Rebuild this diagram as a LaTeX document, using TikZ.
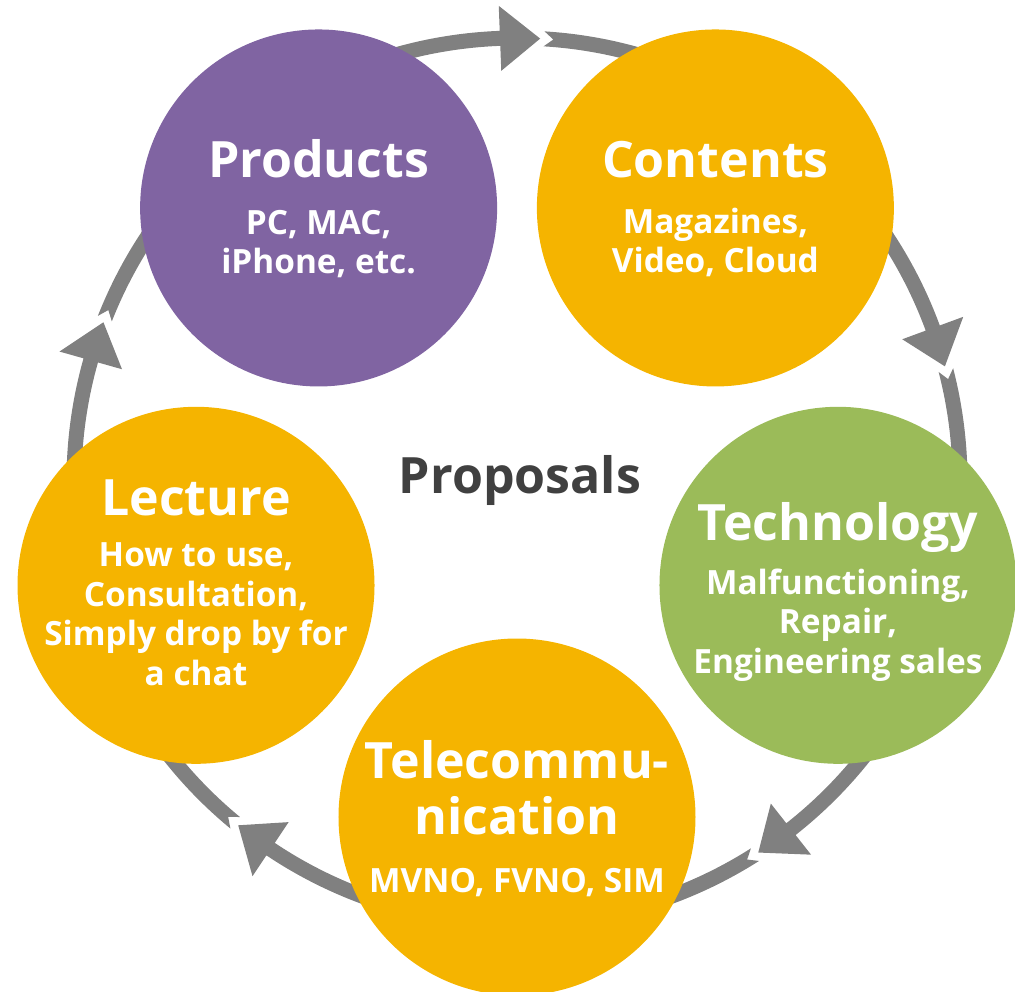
\documentclass[tikz,border=0pt]{standalone}
\usepackage{fontspec}
\setmainfont{Open Sans}
\usepackage{tikz}
\usetikzlibrary{positioning, calc}

\definecolor{ringgray}{HTML}{808080}
\definecolor{prodpurple}{HTML}{8064A2}
\definecolor{warmorange}{HTML}{F5B400}
\definecolor{techgreen}{HTML}{9BBB59}
\definecolor{darktext}{HTML}{404040}

\begin{document}
\begin{tikzpicture}[
      bubble/.style={circle, minimum size=7.14cm, inner sep=0pt, draw=none},
      head_text/.style={font=\bfseries\fontsize{28.5}{31.5}\selectfont, text=white, align=center, inner sep=0pt, anchor=base},
      body_text/.style={font=\bfseries\fontsize{19}{22.5}\selectfont, text=white, align=center, inner sep=0pt, anchor=base}
  ]

  \useasboundingbox (-10.34,-10.20) rectangle (9.96,9.62);

  % Ring of arrows (tips at 87, 15, -57, -129, -201 degrees)
  \foreach \t in {87,15,-57,-129,-201} {
    \fill[ringgray] ({\t+71.5}:9.01) arc[start angle=\t+71.5, end angle=\t+5.2, radius=9.01]
      -- ({\t+5.2}:9.51) -- (\t:8.86) -- ({\t+5.2}:8.21) -- ({\t+5.2}:8.71)
      arc[start angle=\t+5.2, end angle=\t+71.5, radius=8.71]
      -- ({\t+70.3}:8.86) -- cycle;
  }

  % The five circles
  \node[bubble, fill=prodpurple] (prod) at (126:6.75) {};
  \node[bubble, fill=warmorange] (cont) at (54:6.75) {};
  \node[bubble, fill=techgreen] (tech) at (-18:6.75) {};
  \node[bubble, fill=warmorange] (tele) at (-90:6.72) {};
  \node[bubble, fill=warmorange] (lect) at (198:6.75) {};

  % Texts (base = baseline of the last line)
  \node[head_text] (prodhead) at ([yshift=0.60cm]prod.center) {Products};
  \node[body_text] (prodbody) at ([yshift=-1.92cm]prodhead.base) {PC, MAC,\\iPhone, etc.};

  \node[head_text] (conthead) at ([yshift=0.60cm]cont.center) {Contents};
  \node[body_text] (contbody) at ([yshift=-1.90cm]conthead.base) {Magazines,\\Video, Cloud};

  \node[head_text] (techhead) at ([yshift=0.90cm]tech.center) {Technology};
  \node[body_text] (techbody) at ([yshift=-2.66cm]techhead.base) {Malfunctioning,\\Repair,\\Engineering sales};

  \node[head_text] (telehead) at ([yshift=-0.34cm]tele.center) {Telecommu-\\nication};
  \node[body_text] (telebody) at ([yshift=-1.16cm]telehead.base) {MVNO, FVNO, SIM};

  \node[head_text] (lecthead) at ([yshift=1.40cm]lect.center) {Lecture};
  \node[body_text] (lectbody) at ([yshift=-3.40cm]lecthead.base) {How to use,\\Consultation,\\Simply drop by for\\a chat};

  \node[font=\bfseries\fontsize{28.5}{32}\selectfont, text=darktext, anchor=base, inner sep=0pt] (prop) at (0.06,-0.24) {Proposals};

\end{tikzpicture}
\end{document}
